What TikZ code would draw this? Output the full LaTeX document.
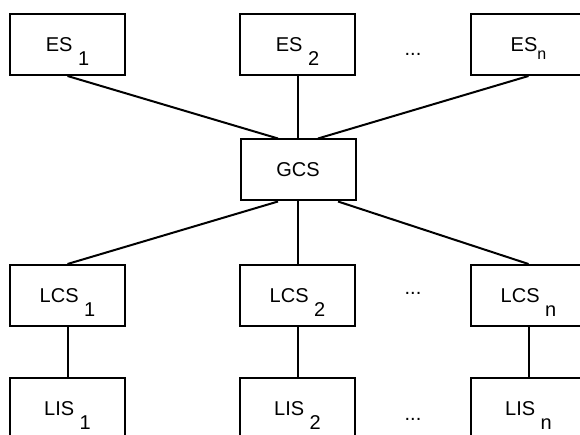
\documentclass[tikz,border=0pt]{standalone}
\usepackage{fontspec}
\setmainfont{Liberation Sans}
\usepackage{tikz}
\usetikzlibrary{positioning}
\tikzstyle{station} = [rectangle, minimum width=115pt, minimum height=61pt, inner sep=0pt, text centered, draw=black, line width=2pt]
\tikzstyle{gap} = [inner sep=0pt]
\tikzstyle{link} = [line width=2pt]
\newcommand{\lowidx}[1]{\raisebox{-14.5pt}[0pt][0pt]{#1}}
\newcommand{\subidx}[1]{\raisebox{-8.5pt}[0pt][0pt]{\fontsize{16pt}{16pt}\selectfont #1}}
\tikzset{
  font={\fontsize{20pt}{21pt}\selectfont}}

\begin{document}
\begin{tikzpicture}[node distance = 230pt]
    \useasboundingbox (0,0) rectangle (580pt,-435pt);
    \clip (0,0) rectangle (580pt,-435pt);
    \node (es1) [station] at (67.5pt,-44.5pt) {ES \lowidx{1}};
    \node (es2) [station, right of=es1] {ES \lowidx{2}};
    \node (esn) [station, right of=es2, xshift=1pt] {ES\subidx{n}};
    \node (gcs) [station, below of=es2, node distance=125.5pt, xshift=0.5pt] {GCS};
    \node (lcs1) [station, below of=es1, node distance=251pt] {LCS \lowidx{1}};
    \node (lcs2) [station, right of=lcs1] {LCS \lowidx{2}};
    \node (lcsn) [station, right of=lcs2, xshift=1pt] {LCS \lowidx{n}};
    \node (lis1) [station, below of=lcs1, node distance=113pt] {LIS \lowidx{1}};
    \node (lis2) [station, right of=lis1] {LIS \lowidx{2}};
    \node (lisn) [station, right of=lis2, xshift=1pt] {LIS \lowidx{n}};

    \node (dotses) [gap, right of=es2, node distance=115.5pt, yshift=-10pt] {...};
    \node (dotslcs) [gap, right of=lcs2, node distance=115.5pt, yshift=2pt] {...};
    \node (dotslis) [gap, right of=lis2, node distance=115.5pt, yshift=-10.5pt] {...};

    \draw [link] (es1.south) -- ([xshift=-20pt]gcs.north);
    \draw [link] (es2.south) -- (es2.south |- gcs.north);
    \draw [link] (esn.south) -- ([xshift=20pt]gcs.north);
    \draw [link] ([xshift=-20pt]gcs.south) -- (lcs1.north);
    \draw [link] (lcs2.north |- gcs.south) -- (lcs2.north);
    \draw [link] ([xshift=40pt]gcs.south) -- (lcsn.north);
    \draw [link] (lcs1) -- (lis1);
    \draw [link] (lcs2) -- (lis2);
    \draw [link] (lcsn) -- (lisn);
\end{tikzpicture}
\end{document}
